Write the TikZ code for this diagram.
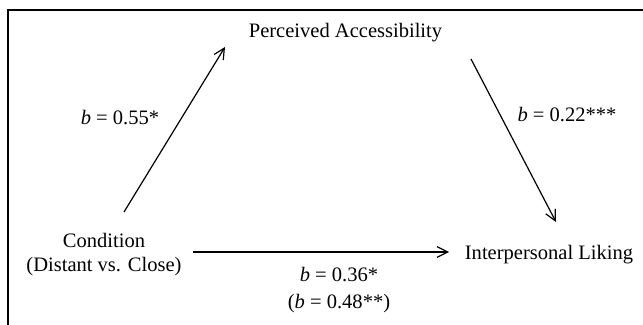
\documentclass[tikz,border=0pt]{standalone}
\usepackage{fontspec}
\setmainfont{Liberation Serif}
\usetikzlibrary{arrows.meta}

\begin{document}
\begin{tikzpicture}[x=0.75pt,y=0.75pt,font=\fontsize{15.4}{18}\selectfont,
    lbl/.style={inner sep=0pt,align=center},
    link/.style={line width=0.9pt,-{Straight Barb[length=8pt,width=8pt]}}]
  \useasboundingbox (0,0) rectangle (643,325);
  \clip (0,0) rectangle (643,325);
  \draw[line width=1.2pt] (8,-20) -- (8,315) -- (660,315);
  % variables
  \node[lbl] (acc) at (345.5,292) {Perceived Accessibility};
  \node[lbl] (cond) at (104,70) {Condition\\(Distant vs. Close)};
  \node[lbl] (liking) at (549,70) {Interpersonal Liking};
  % path coefficients
  \node[lbl] (coefA) at (120,207) {\textit{b} = 0.55*};
  \node[lbl] (coefB) at (567,210) {\textit{b} = 0.22***};
  \node[lbl] (coefC) at (339,35) {\textit{b} = 0.36*\\[2.25pt](\textit{b} = 0.48**)};
  % paths
  \draw[link] ([shift={(20,43)}]cond.center) -- ([shift={(-120.5,-14)}]acc.center);
  \draw[link] ([shift={(125.5,-26)}]acc.center) -- ([shift={(7,33)}]liking.center);
  \draw[link] ([shift={(89,3)}]cond.center) -- ([shift={(-100,3)}]liking.center);
\end{tikzpicture}
\end{document}
